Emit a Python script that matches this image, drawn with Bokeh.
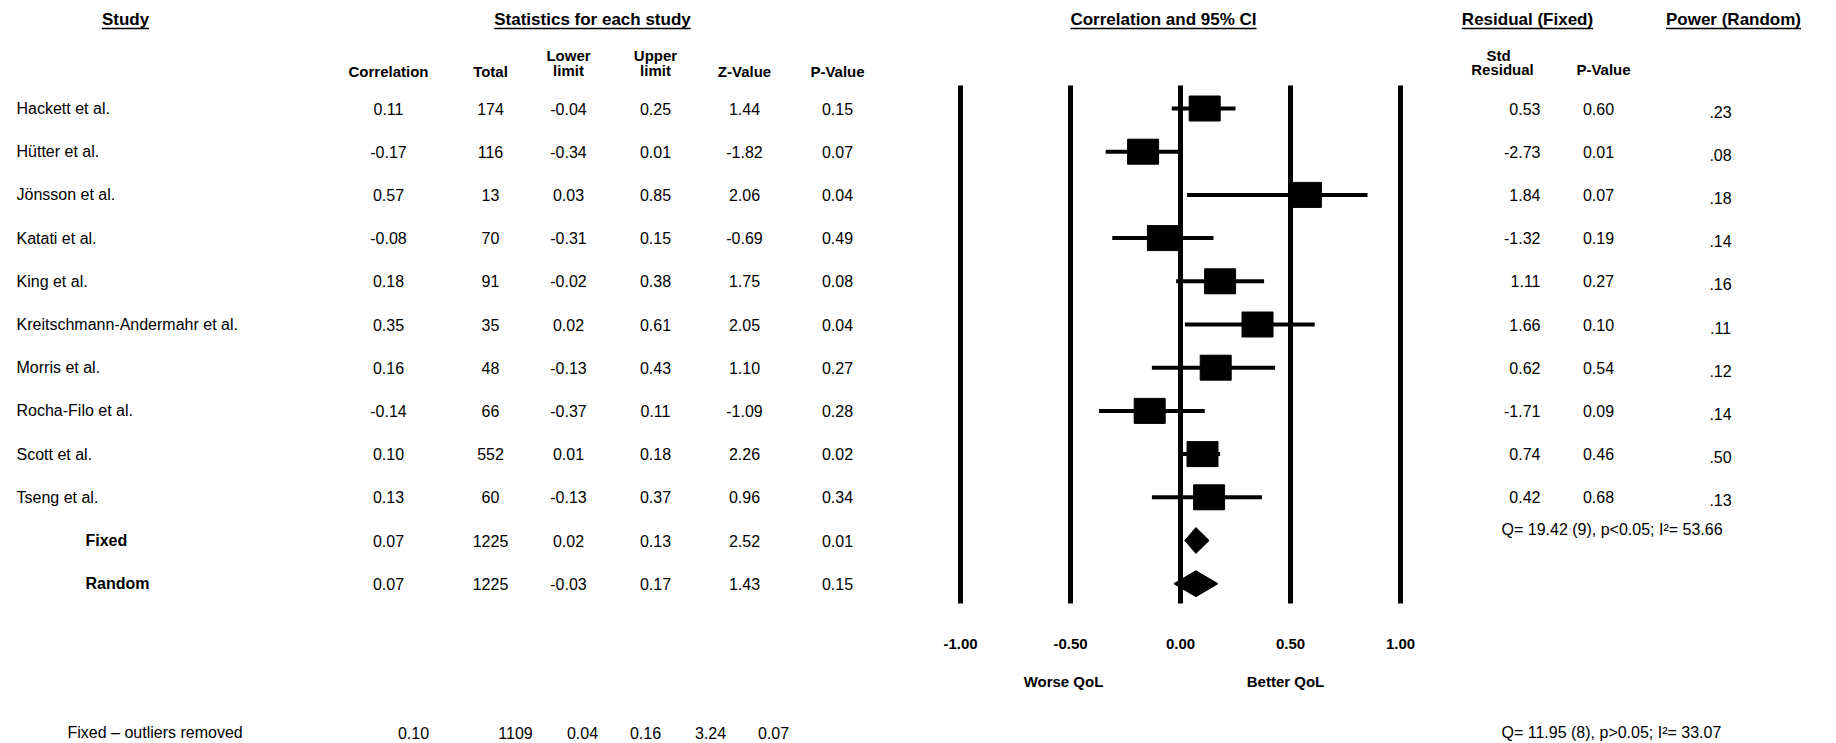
from bokeh.plotting import figure
from bokeh.models import Range1d, ColumnDataSource
from bokeh.core.properties import value
from bokeh.embed import file_html
from bokeh.resources import INLINE

# ---------------- data ----------------
studies = ["Hackett et al.", "Hütter et al.", "Jönsson et al.", "Katati et al.", "King et al.",
           "Kreitschmann-Andermahr et al.", "Morris et al.", "Rocha-Filo et al.", "Scott et al.", "Tseng et al."]
corr = [0.11, -0.17, 0.57, -0.08, 0.18, 0.35, 0.16, -0.14, 0.10, 0.13]
total = [174, 116, 13, 70, 91, 35, 48, 66, 552, 60]
lower = [-0.04, -0.34, 0.03, -0.31, -0.02, 0.02, -0.13, -0.37, 0.01, -0.13]
upper = [0.25, 0.01, 0.85, 0.15, 0.38, 0.61, 0.43, 0.11, 0.18, 0.37]
zval = [1.44, -1.82, 2.06, -0.69, 1.75, 2.05, 1.10, -1.09, 2.26, 0.96]
pval = [0.15, 0.07, 0.04, 0.49, 0.08, 0.04, 0.27, 0.28, 0.02, 0.34]
std_resid = [0.53, -2.73, 1.84, -1.32, 1.11, 1.66, 0.62, -1.71, 0.74, 0.42]
resid_p = [0.60, 0.01, 0.07, 0.19, 0.27, 0.10, 0.54, 0.09, 0.46, 0.68]
power = [0.23, 0.08, 0.18, 0.14, 0.16, 0.11, 0.12, 0.14, 0.50, 0.13]

summary_labels = ["Fixed", "Random"]
sum_corr = [0.07, 0.07]
sum_total = [1225, 1225]
sum_lower = [0.02, -0.03]
sum_upper = [0.13, 0.17]
sum_z = [2.52, 1.43]
sum_p = [0.01, 0.15]

outlier_label = "Fixed \u2013 outliers removed"
outlier_vals = ["0.10", "1109", "0.04", "0.16", "3.24", "0.07"]
het_fixed = "Q= 19.42 (9), p<0.05;  I\u00b2= 53.66"
het_outlier = "Q= 11.95 (8), p>0.05;  I\u00b2= 33.07"

ticks = [-1.0, -0.5, 0.0, 0.5, 1.0]
tick_labels = ["-1.00", "-0.50", "0.00", "0.50", "1.00"]
side_labels = ["Worse QoL", "Better QoL"]

col_headers = ["Correlation", "Total", "Lower\nlimit", "Upper\nlimit", "Z-Value", "P-Value"]
section_titles = ["Study", "Statistics for each study", "Correlation and 95% CI",
                  "Residual (Fixed)", "Power (Random)"]

# ---------------- figure ----------------
W, H = 1834, 742
p = figure(width=W, height=H, output_backend="svg", toolbar_location=None,
           x_range=Range1d(0, W), y_range=Range1d(H, 0),
           x_axis_location=None, y_axis_location=None, min_border=0)
p.outline_line_color = None
p.grid.grid_line_color = None
p.background_fill_color = "white"

# correlation scale: page x = 1180 + 220*r ; row scale: page y = 108 + 43.2*i
X0, XS = 1180.0, 220.0
Y0, YS = 108.0, 43.2
p.extra_x_ranges = {"corr": Range1d((0 - X0) / XS, (W - X0) / XS)}
p.extra_y_ranges = {"row": Range1d((H - Y0) / YS, (0 - Y0) / YS)}

FONT = value("Liberation Sans")
BLACK = "#000000"
DSIZE = "16px"


def txt(x, y, t, size=DSIZE, style="normal", align="center", baseline="middle",
        xr="default", yr="default"):
    src = ColumnDataSource(dict(x=x, y=y, t=t))
    p.text(x="x", y="y", text="t", source=src, text_font=FONT, text_font_size=size,
           text_font_style=style, text_align=align, text_baseline=baseline,
           text_color=BLACK, x_range_name=xr, y_range_name=yr)


rows = list(range(len(studies)))
sum_rows = [len(studies), len(studies) + 1]

# section titles (bold, underlined)
bold_w = {'S': 667, 't': 333, 'u': 611, 'd': 611, 'y': 556, 'a': 556, 'i': 278, 's': 556, 'c': 556,
          'f': 333, 'o': 611, 'r': 389, 'e': 556, 'h': 611, 'C': 722, 'l': 278, 'n': 611, '9': 556,
          '5': 556, '%': 889, 'I': 278, 'R': 722, '(': 333, 'F': 611, 'x': 556, ')': 333, 'P': 667,
          'w': 778, 'm': 889, ' ': 278}
title_x = [125, 592, 1163, 1527, 1733]
TSIZE = 17
txt(title_x, [19] * 5, section_titles, size=f"{TSIZE}px", style="bold")
ux0, ux1 = [], []
for cx, t in zip(title_x, section_titles):
    w = sum(bold_w.get(ch, 556) for ch in t) / 1000.0 * TSIZE
    ux0.append(cx - w / 2)
    ux1.append(cx + w / 2)
p.segment(x0=ux0, x1=ux1, y0=[28] * 5, y1=[28] * 5, line_color=BLACK, line_width=1.6)

# column headers
col_x = [388, 490, 568, 655, 744, 837]
hx, hy, ht = [], [], []
for cx, h in zip(col_x, col_headers):
    parts = h.split("\n")
    if len(parts) == 2:
        hx += [cx, cx]; hy += [55, 70]; ht += parts
    else:
        hx.append(cx); hy.append(71); ht.append(h)
txt(hx, hy, ht, size="15px", style="bold")
txt([1498, 1502, 1603], [55, 69, 69], ["Std", "Residual", "P-Value"], size="15px", style="bold")

# study rows
txt([16] * len(studies), rows, studies, align="left", yr="row")
cols = [[f"{v:.2f}" for v in corr], [str(v) for v in total], [f"{v:.2f}" for v in lower],
        [f"{v:.2f}" for v in upper], [f"{v:.2f}" for v in zval], [f"{v:.2f}" for v in pval]]
for cx, vals in zip(col_x, cols):
    txt([cx] * len(vals), rows, vals, yr="row")

# summary rows
txt([85, 85], sum_rows, summary_labels, style="bold", align="left", yr="row")
scols = [[f"{v:.2f}" for v in sum_corr], [str(v) for v in sum_total], [f"{v:.2f}" for v in sum_lower],
         [f"{v:.2f}" for v in sum_upper], [f"{v:.2f}" for v in sum_z], [f"{v:.2f}" for v in sum_p]]
for cx, vals in zip(col_x, scols):
    txt([cx, cx], sum_rows, vals, yr="row")

# residual / power columns
txt([1540] * len(rows), rows, [f"{v:.2f}" for v in std_resid], align="right", yr="row")
txt([1598] * len(rows), rows, [f"{v:.2f}" for v in resid_p], yr="row")
txt([1720] * len(rows), [r + 0.07 for r in rows], [f"{v:.2f}"[1:] for v in power], yr="row")
txt([1501], [sum_rows[0] - 0.25], [het_fixed], align="left", yr="row")

# forest plot: reference lines
p.segment(x0=ticks, x1=ticks, y0=[85] * 5, y1=[603] * 5, x_range_name="corr",
          line_color=BLACK, line_width=5)
# confidence intervals
p.segment(x0=lower, x1=upper, y0=rows, y1=rows, x_range_name="corr", y_range_name="row",
          line_color=BLACK, line_width=4)
p.rect(x=corr, y=rows, width=31, height=25, width_units="screen", height_units="screen",
       x_range_name="corr", y_range_name="row", fill_color=BLACK, line_color=BLACK)
# summary diamonds
dxs, dys = [], []
for r, m, lo, up in zip(sum_rows, sum_corr, sum_lower, sum_upper):
    dxs.append([lo, m, up, m])
    dys.append([r, r - 0.3, r, r + 0.3])
p.patches(xs=dxs, ys=dys, x_range_name="corr", y_range_name="row",
          fill_color=BLACK, line_color=BLACK)

# axis labels
txt(ticks, [643] * 5, tick_labels, size="15px", style="bold", xr="corr")
txt([1063, 1285], [681, 681], side_labels, size="15px", style="bold")

# bottom row
txt([67], [732], [outlier_label], align="left")
txt([413, 515, 582, 645, 710, 773], [732] * 6, outlier_vals)
txt([1501], [732], [het_outlier], align="left")

open("out.html", "w").write(file_html(p, INLINE))
